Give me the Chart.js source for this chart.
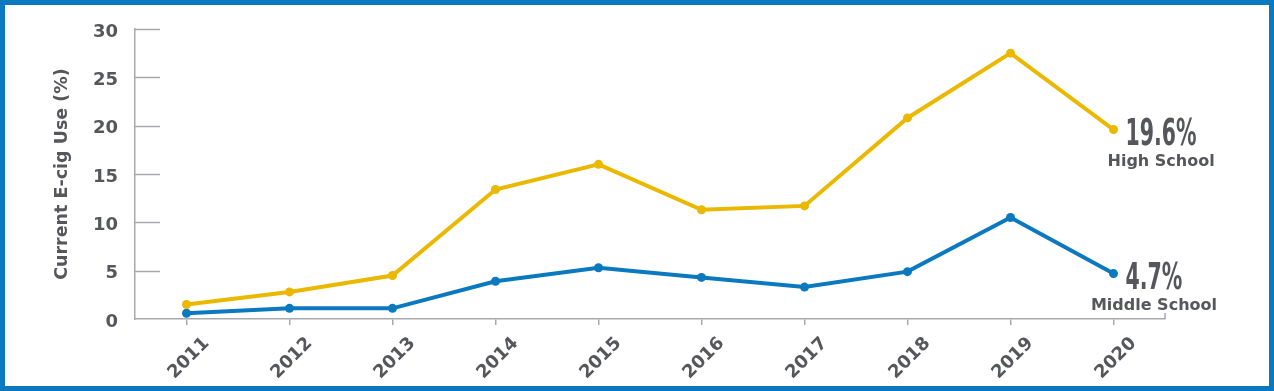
<!DOCTYPE html>
<html>
<head>
<meta charset="utf-8">
<script src="https://cdn.jsdelivr.net/npm/chart.js@4/dist/chart.umd.min.js"></script>
<style>
  html, body { margin: 0; padding: 0; background: #fff; }
  #wrap { position: relative; width: 1274px; height: 391px; }
  #c { position: absolute; left: 0; top: 0; }
  #frame { position: absolute; left: 0; top: 0; width: 1274px; height: 391px; box-sizing: border-box; border: 5px solid #0a79bf; pointer-events: none; }
</style>
</head>
<body>
<div id="wrap">
  <canvas id="c" width="1274" height="391"></canvas>
  <div id="frame"></div>
</div>
<script>
const years = ['2011','2012','2013','2014','2015','2016','2017','2018','2019','2020'];
const highSchool = [1.5, 2.8, 4.5, 13.4, 16.0, 11.3, 11.7, 20.8, 27.5, 19.6];
const middleSchool = [0.6, 1.1, 1.1, 3.9, 5.3, 4.3, 3.3, 4.9, 10.5, 4.7];
const seriesNames = ['High School', 'Middle School'];
const yTicks = [0, 5, 10, 15, 20, 25, 30];
const yTitle = 'Current E-cig Use (%)';

const YELLOW = '#ebb800';
const BLUE = '#0a79bf';
const GRAY_TEXT = '#55575b';
const AXIS = '#a7a9ac';

const innerTicks = {
  id: 'innerTicks',
  afterDraw(chart) {
    const ctx = chart.ctx;
    const y = chart.scales.y;
    const { left, right, bottom } = chart.chartArea;
    ctx.save();
    ctx.strokeStyle = AXIS;
    ctx.lineWidth = 1.5;
    yTicks.forEach(v => {
      if (v === 0) return;
      const py = Math.round(y.getPixelForValue(v)) + 0.5;
      ctx.beginPath();
      ctx.moveTo(left, py);
      ctx.lineTo(left + 25, py);
      ctx.stroke();
    });
    ctx.beginPath();
    ctx.moveTo(right, bottom);
    ctx.lineTo(right, bottom - 6);
    ctx.stroke();
    ctx.restore();
  }
};

const endLabels = {
  id: 'endLabels',
  afterDatasetsDraw(chart) {
    const ctx = chart.ctx;
    chart.data.datasets.forEach((ds, i) => {
      const meta = chart.getDatasetMeta(i);
      const last = meta.data[meta.data.length - 1];
      const val = ds.data[ds.data.length - 1];
      const txt = val.toFixed(1) + '%';
      ctx.save();
      ctx.fillStyle = GRAY_TEXT;
      ctx.font = 'bold 38px "DejaVu Sans Condensed", "DejaVu Sans"';
      ctx.textBaseline = 'alphabetic';
      ctx.textAlign = 'left';
      const sx = 0.6;
      const w = ctx.measureText(txt).width * sx;
      const x0 = last.x + 12;
      const base = last.y + 15;
      ctx.translate(x0, base);
      ctx.scale(sx, 1);
      ctx.fillText(txt, 0, 0);
      ctx.restore();
      ctx.save();
      ctx.fillStyle = GRAY_TEXT;
      ctx.font = 'bold 16px "DejaVu Sans"';
      ctx.textAlign = 'center';
      ctx.textBaseline = 'alphabetic';
      ctx.fillText(ds.label, x0 + w / 2, base + 21);
      ctx.restore();
    });
  }
};

new Chart(document.getElementById('c'), {
  type: 'line',
  data: {
    labels: years,
    datasets: [
      { label: seriesNames[0], data: highSchool, borderColor: YELLOW, backgroundColor: YELLOW,
        borderWidth: 4, pointRadius: 4.5, pointBackgroundColor: YELLOW, pointBorderWidth: 0, tension: 0 },
      { label: seriesNames[1], data: middleSchool, borderColor: BLUE, backgroundColor: BLUE,
        borderWidth: 4, pointRadius: 4.5, pointBackgroundColor: BLUE, pointBorderWidth: 0, tension: 0 }
    ]
  },
  options: {
    responsive: false,
    animation: false,
    devicePixelRatio: 1,
    layout: { padding: { left: 0, right: 109, top: 29, bottom: 0 } },
    plugins: { legend: { display: false }, tooltip: { enabled: false } },
    scales: {
      x: {
        offset: true,
        border: { display: true, color: AXIS, width: 1.5 },
        grid: { display: true, drawOnChartArea: false, drawTicks: true, tickLength: 6, color: AXIS, lineWidth: 1.5, offset: false },
        ticks: {
          color: GRAY_TEXT, font: { family: 'DejaVu Sans', weight: 'bold', size: 18 },
          maxRotation: 45, minRotation: 45, padding: 8, labelOffset: 20, autoSkip: false
        },
        afterFit(scale) { scale.height = 72; }
      },
      y: {
        min: 0, max: 30,
        border: { display: true, color: AXIS, width: 1.5 },
        grid: { display: false, drawTicks: false },
        ticks: {
          stepSize: 5, color: GRAY_TEXT, padding: 17, labelOffset: 3,
          font: { family: 'DejaVu Sans', weight: 'bold', size: 18 }
        },
        title: {
          display: true, text: yTitle, color: GRAY_TEXT,
          font: { family: 'DejaVu Sans', weight: 'bold', size: 17.5 }, padding: { top: 52, bottom: 4 }
        },
        afterFit(scale) { scale.width = 135; }
      }
    }
  },
  plugins: [innerTicks, endLabels]
});
</script>
</body>
</html>
